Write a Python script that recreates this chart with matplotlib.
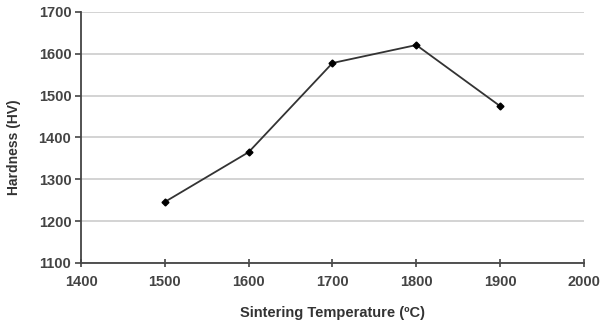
import matplotlib
matplotlib.use('Agg')
import matplotlib.pyplot as plt

temperature = [1500, 1600, 1700, 1800, 1900]
hardness = [1246, 1365, 1578, 1621, 1475]
x_ticks = [1400, 1500, 1600, 1700, 1800, 1900, 2000]
y_ticks = [1100, 1200, 1300, 1400, 1500, 1600, 1700]

plt.rcParams['font.family'] = ['Liberation Sans', 'DejaVu Sans']
plt.rcParams['font.weight'] = 'bold'

fig = plt.figure(figsize=(6.02, 3.24), dpi=100)
ax = fig.add_axes([0.1346, 0.1883, 0.8354, 0.7747])

ax.plot(temperature, hardness, color='#333333', lw=1.3, marker='D', ms=3.5,
        mfc='black', mec='black')

ax.set_xlim(1400, 2000)
ax.set_ylim(1100, 1700)
ax.set_xticks(x_ticks)
ax.set_yticks(y_ticks)
ax.grid(axis='y', color='#d0d0d0', lw=1.3)
ax.set_axisbelow(True)

for s in ('top', 'right'):
    ax.spines[s].set_visible(False)
for s in ('left', 'bottom'):
    ax.spines[s].set_color('#444444')
    ax.spines[s].set_linewidth(1.3)

ax.tick_params(axis='x', direction='inout', length=6, width=1.2, color='#444444',
               labelsize=10.5, labelcolor='#444444', pad=6)
ax.tick_params(axis='y', direction='out', length=4, width=1.2, color='#444444',
               labelsize=10.5, labelcolor='#444444', pad=3)

ax.set_xlabel('Sintering Temperature (\u00baC)', fontsize=10.5, fontweight='bold',
              color='#333333', labelpad=12)
ax.set_ylabel('Hardness (HV)', fontsize=10, fontweight='bold', color='#333333')
ax.yaxis.set_label_coords(-0.119, 0.46)

fig.savefig('out.png', dpi=100)
